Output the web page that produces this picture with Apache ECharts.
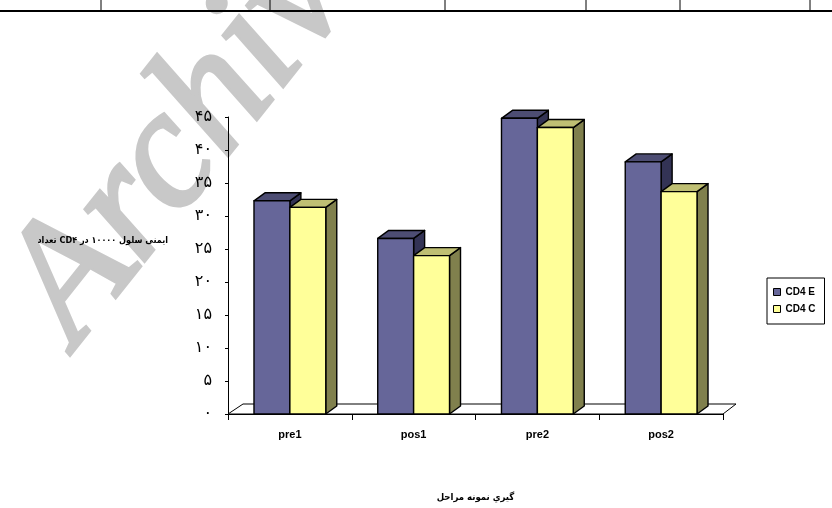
<!DOCTYPE html>
<html>
<head>
<meta charset="utf-8">
<style>
  html, body { margin: 0; padding: 0; background: #fff; }
  #chart { width: 832px; height: 508px; }
</style>
<script src="https://cdn.jsdelivr.net/npm/echarts@6/dist/echarts.min.js"></script>
</head>
<body>
<div id="chart"></div>
<script>
// مراحل نمونه گیری و مقادیر
const stages = ['pre1', 'pos1', 'pre2', 'pos2'];
const cd4E = [32.3, 26.6, 44.8, 38.2];
const cd4C = [31.3, 24.0, 43.4, 33.7];
const yTickLabels = ['۰', '۵', '۱۰', '۱۵', '۲۰', '۲۵', '۳۰', '۳۵', '۴۰', '۴۵'];

const chart = echarts.init(document.getElementById('chart'));

// bar with a small 3D look (front, top and right side)
function bar3d(slot, front, top, side) {
  return function (params, api) {
    const c = api.value(0);
    const v = api.value(1);
    const p0 = api.coord([c, 0]);
    const p1 = api.coord([c, v]);
    const w = api.size([1, 0])[0] * 0.29;
    const x = slot === 0 ? p0[0] - w : p0[0];
    const yb = p0[1], yt = p1[1];
    const dx = 11, dy = -8;
    const line = { stroke: '#000', lineWidth: 1.4, lineJoin: 'round' };
    return {
      type: 'group',
      children: [
        { type: 'polygon', shape: { points: [[x + w, yt], [x + w + dx, yt + dy], [x + w + dx, yb + dy], [x + w, yb]] },
          style: Object.assign({ fill: side }, line) },
        { type: 'polygon', shape: { points: [[x, yt], [x + dx, yt + dy], [x + w + dx, yt + dy], [x + w, yt]] },
          style: Object.assign({ fill: top }, line) },
        { type: 'rect', shape: { x: x, y: yt, width: w, height: yb - yt },
          style: Object.assign({ fill: front }, line) }
      ]
    };
  };
}

function floor(params, api) {
  const cs = params.coordSys;
  const yb = cs.y + cs.height;
  return {
    type: 'polygon',
    shape: { points: [[cs.x, yb], [cs.x + cs.width, yb], [cs.x + cs.width + 13, yb - 10], [cs.x + 15, yb - 10]] },
    style: { fill: '#fff', stroke: '#000', lineWidth: 1 }
  };
}

const option = {
  animation: false,
  backgroundColor: '#fff',
  grid: { left: 228, right: 109, top: 117, bottom: 90 },
  legend: {
    orient: 'vertical',
    left: 767,
    top: 278,
    padding: [9, 9, 10, 6],
    itemGap: 7,
    itemWidth: 7,
    itemHeight: 7,
    borderColor: '#000',
    borderWidth: 1,
    borderRadius: 0,
    textStyle: { fontFamily: 'Liberation Sans', fontWeight: 'bold', fontSize: 10, color: '#000' },
    data: [
      { name: 'CD4 E', icon: 'rect', itemStyle: { borderColor: '#000', borderWidth: 1 } },
      { name: 'CD4 C', icon: 'rect', itemStyle: { borderColor: '#000', borderWidth: 1 } }
    ]
  },
  xAxis: {
    type: 'category',
    data: stages,
    name: 'مراحل \u200eنمونه \u200eگيري',
    nameLocation: 'middle',
    nameGap: 79,
    nameTextStyle: { fontFamily: 'DejaVu Sans Condensed', fontWeight: 'bold', fontSize: 9.5, color: '#000' },
    axisLine: { lineStyle: { color: '#000', width: 1 } },
    axisTick: { show: true, length: 6, lineStyle: { color: '#000' } },
    axisLabel: { margin: 15, fontFamily: 'Liberation Sans', fontWeight: 'bold', fontSize: 11, color: '#000' },
    splitLine: { show: false }
  },
  yAxis: {
    type: 'value',
    min: 0,
    max: 45,
    interval: 5,
    axisLine: { show: true, lineStyle: { color: '#000', width: 1 } },
    axisTick: { show: true, length: 3, lineStyle: { color: '#000' } },
    axisLabel: {
      margin: 16,
      fontFamily: 'DejaVu Sans',
      fontSize: 16,
      color: '#000',
      formatter: (v) => yTickLabels[Math.round(v / 5)]
    },
    splitLine: { show: false }
  },
  graphic: [
    {
      type: 'text', z: -10,
      x: 203, y: 115, rotation: 0.9,
      style: {
        text: 'Archive', fill: '#c8c8c8',
        stroke: '#c8c8c8', lineWidth: 4,
        font: 'italic 170px "Liberation Serif"',
        align: 'center', verticalAlign: 'middle'
      }
    },
    { type: 'line', shape: { x1: 0, y1: 11, x2: 832, y2: 11 }, style: { stroke: '#000', lineWidth: 2 } },
    { type: 'line', shape: { x1: 101, y1: 0, x2: 101, y2: 11 }, style: { stroke: '#000', lineWidth: 1 } },
    { type: 'line', shape: { x1: 270, y1: 0, x2: 270, y2: 11 }, style: { stroke: '#000', lineWidth: 1 } },
    { type: 'line', shape: { x1: 445, y1: 0, x2: 445, y2: 11 }, style: { stroke: '#000', lineWidth: 1 } },
    { type: 'line', shape: { x1: 586, y1: 0, x2: 586, y2: 11 }, style: { stroke: '#000', lineWidth: 1 } },
    { type: 'line', shape: { x1: 680, y1: 0, x2: 680, y2: 11 }, style: { stroke: '#000', lineWidth: 1 } },
    { type: 'line', shape: { x1: 810, y1: 0, x2: 810, y2: 11 }, style: { stroke: '#000', lineWidth: 1 } },
    {
      type: 'text', x: 168, y: 241,
      style: {
        text: 'تعداد \u200eCD۴ \u200eدر \u200e۱۰۰۰۰ \u200eسلول \u200eایمنی',
        fill: '#000', font: 'bold 9px "DejaVu Sans Condensed"',
        align: 'right', verticalAlign: 'middle'
      }
    }
  ],
  series: [
    {
      name: 'floor', type: 'custom', z: 1, silent: true,
      renderItem: floor,
      data: [[0, 0]]
    },
    {
      name: 'CD4 E', type: 'custom', z: 2,
      itemStyle: { color: '#666699' },
      encode: { x: 0, y: 1 },
      renderItem: bar3d(0, '#666699', '#4d4d73', '#333355'),
      data: stages.map((s, i) => [i, cd4E[i]])
    },
    {
      name: 'CD4 C', type: 'custom', z: 3,
      itemStyle: { color: '#ffff99' },
      encode: { x: 0, y: 1 },
      renderItem: bar3d(1, '#ffff99', '#bfbf73', '#80804d'),
      data: stages.map((s, i) => [i, cd4C[i]])
    }
  ]
};

chart.setOption(option);
</script>
</body>
</html>
